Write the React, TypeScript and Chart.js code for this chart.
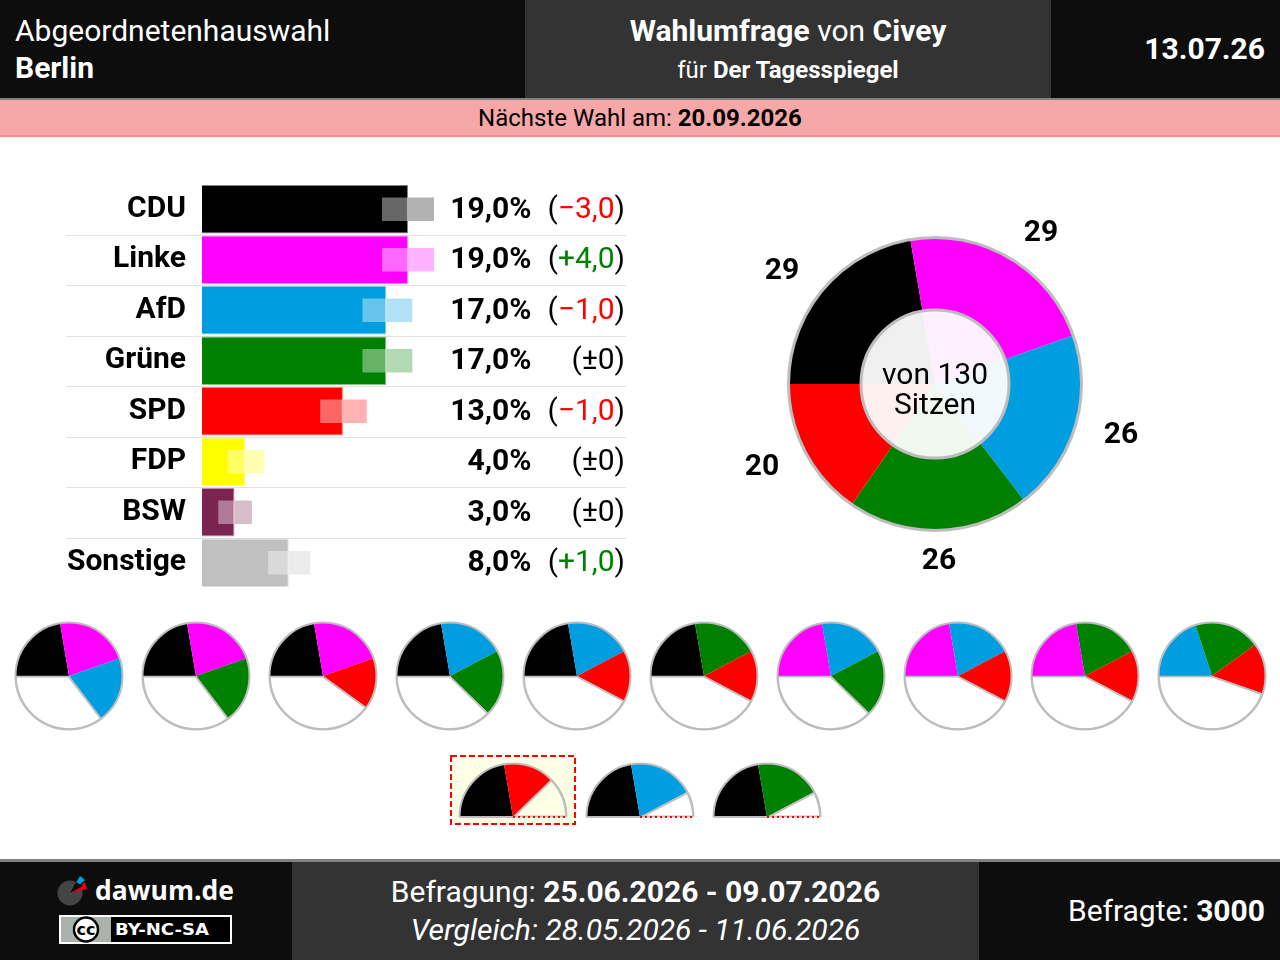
import { Chart, registerables } from 'chart.js';
import { useEffect, useRef } from 'react';

Chart.register(...registerables);

const parties = ['CDU', 'Linke', 'AfD', 'Grüne', 'SPD', 'FDP', 'BSW', 'Sonstige'];
const shares = [19, 19, 17, 17, 13, 4, 3, 8];
const changes = [-3, 4, -1, 0, -1, 0, 0, 1];
const marginLow = [16.6, 16.6, 14.8, 14.8, 10.9, 2.4, 1.5, 6.1];
const marginHigh = [21.4, 21.4, 19.4, 19.4, 15.2, 5.7, 4.6, 10];
const partyColors = ['#000000', '#ff00ff', '#009ee0', '#008000', '#ff0000', '#ffff00', '#7b2450', '#c0c0c0'];

const seatParties = ['CDU', 'Linke', 'AfD', 'Grüne', 'SPD'];
const seats = [29, 29, 26, 26, 20];
const seatColors = ['#000000', '#ff00ff', '#009ee0', '#008000', '#ff0000'];
const seatLabelOffsets = [
  [-153, -116],
  [106, -154],
  [186, 48],
  [4, 174],
  [-173, 80],
];
const totalSeats = 130;

const fullCoalitions = [
  ['CDU', 'Linke', 'AfD'],
  ['CDU', 'Linke', 'Grüne'],
  ['CDU', 'Linke', 'SPD'],
  ['CDU', 'AfD', 'Grüne'],
  ['CDU', 'AfD', 'SPD'],
  ['CDU', 'Grüne', 'SPD'],
  ['Linke', 'AfD', 'Grüne'],
  ['Linke', 'AfD', 'SPD'],
  ['Linke', 'Grüne', 'SPD'],
  ['AfD', 'Grüne', 'SPD'],
];
const halfCoalitions = [
  ['CDU', 'SPD'],
  ['CDU', 'AfD'],
  ['CDU', 'Grüne'],
];

const RING = '#bdbdbd';
const FONT = 'Roboto';

function fade(hex: string, alpha: number) {
  const n = parseInt(hex.slice(1), 16);
  return `rgba(${n >> 16},${(n >> 8) & 255},${n & 255},${alpha})`;
}

function formatChange(v: number) {
  if (v === 0) return '±0';
  return (v > 0 ? '+' : '−') + Math.abs(v).toFixed(1).replace('.', ',');
}

function BarChart() {
  const canvasRef = useRef<HTMLCanvasElement>(null);

  useEffect(() => {
    if (!canvasRef.current) return;

    const rowText = {
      id: 'rowText',
      beforeDatasetsDraw(chart: any) {
        const { ctx } = chart;
        const y = chart.scales.y;
        ctx.save();
        ctx.strokeStyle = '#e2e2e2';
        ctx.lineWidth = 1;
        for (let i = 0; i < parties.length - 1; i++) {
          const py = Math.round(y.getPixelForValue(i + 0.5)) + 0.5;
          ctx.beginPath();
          ctx.moveTo(66, py);
          ctx.lineTo(626, py);
          ctx.stroke();
        }
        ctx.restore();
      },
      afterDatasetsDraw(chart: any) {
        const { ctx } = chart;
        const y = chart.scales.y;
        ctx.save();
        ctx.textBaseline = 'middle';
        parties.forEach((_, i) => {
          const py = y.getPixelForValue(i) + 1;
          ctx.font = `700 30px ${FONT}`;
          ctx.fillStyle = '#000';
          ctx.textAlign = 'right';
          ctx.fillText(shares[i].toFixed(1).replace('.', ',') + '%', 531.5, py);

          ctx.font = `400 30px ${FONT}`;
          const inner = formatChange(changes[i]);
          const close = ctx.measureText(')').width;
          const innerW = ctx.measureText(inner).width;
          ctx.fillText(')', 625, py);
          ctx.fillStyle = changes[i] < 0 ? '#ff0000' : changes[i] > 0 ? '#008000' : '#000';
          ctx.fillText(inner, 625 - close, py);
          ctx.fillStyle = '#000';
          ctx.fillText('(', 625 - close - innerW, py);
        });
        ctx.restore();
      },
    };

    const chart = new Chart(canvasRef.current, {
      type: 'bar',
      data: {
        labels: parties,
        datasets: [
          {
            data: shares,
            backgroundColor: partyColors,
            borderColor: partyColors.map((c) => fade(c, 0.5)),
            borderWidth: 1,
            barPercentage: 0.96,
            categoryPercentage: 1,
            order: 3,
          },
          {
            data: marginLow.map((low, i) => [low, shares[i]]),
            backgroundColor: 'rgba(255,255,255,0.4)',
            barPercentage: 0.47,
            categoryPercentage: 1,
            order: 2,
          },
          {
            data: marginHigh.map((high, i) => [shares[i], high]),
            backgroundColor: partyColors.map((c) => fade(c, 0.3)),
            barPercentage: 0.47,
            categoryPercentage: 1,
            order: 1,
          },
        ],
      } as any,
      options: {
        indexAxis: 'y',
        responsive: false,
        animation: false,
        layout: { padding: { top: 25.4, bottom: 13, right: 15.2, left: 0 } },
        scales: {
          x: { display: false, min: 0, max: 39, stacked: false },
          y: {
            afterFit(scale: any) {
              scale.width = 202;
            },
            border: { display: false },
            grid: { display: false, drawTicks: false },
            ticks: {
              padding: 16,
              color: '#000',
              font: { family: FONT, size: 30, weight: 700 },
            },
          },
        },
        datasets: { bar: { grouped: false } },
        plugins: { legend: { display: false }, tooltip: { enabled: false } },
      } as any,
      plugins: [rowText],
    });

    return () => chart.destroy();
  }, []);

  return <canvas ref={canvasRef} width={640} height={472} style={{ position: 'absolute', left: 0, top: 150 }} />;
}

function SeatChart() {
  const canvasRef = useRef<HTMLCanvasElement>(null);

  useEffect(() => {
    if (!canvasRef.current) return;

    const overlay = {
      id: 'overlay',
      afterDatasetsDraw(chart: any) {
        const { ctx } = chart;
        const arc = chart.getDatasetMeta(0).data[0];
        const cx = arc.x;
        const cy = arc.y;
        ctx.save();
        ctx.strokeStyle = RING;
        ctx.lineWidth = 3;
        ctx.beginPath();
        ctx.arc(cx, cy, 146.5, 0, Math.PI * 2);
        ctx.stroke();
        ctx.beginPath();
        ctx.arc(cx, cy, 74, 0, Math.PI * 2);
        ctx.fillStyle = 'rgba(255,255,255,0.94)';
        ctx.fill();
        ctx.stroke();

        ctx.fillStyle = '#000';
        ctx.textAlign = 'center';
        ctx.textBaseline = 'middle';
        ctx.font = `400 30px ${FONT}`;
        ctx.fillText('von 130', cx, cy - 8);
        ctx.fillText('Sitzen', cx, cy + 22);
        ctx.font = `700 30px ${FONT}`;
        seats.forEach((v, i) => {
          ctx.fillText(String(v), cx + seatLabelOffsets[i][0], cy + seatLabelOffsets[i][1] + 3);
        });
        ctx.restore();
      },
    };

    const chart = new Chart(canvasRef.current, {
      type: 'pie',
      data: {
        labels: seatParties,
        datasets: [{ data: seats, backgroundColor: seatColors, borderWidth: 0 }],
      },
      options: {
        responsive: false,
        animation: false,
        rotation: -90,
        radius: 147,
        plugins: { legend: { display: false }, tooltip: { enabled: false } },
      } as any,
      plugins: [overlay],
    });

    return () => chart.destroy();
  }, []);

  return <canvas ref={canvasRef} width={460} height={420} style={{ position: 'absolute', left: 705, top: 174 }} />;
}

function CoalitionPie({ members, half, left, top, restColor }: { members: string[]; half?: boolean; left: number; top: number; restColor: string }) {
  const canvasRef = useRef<HTMLCanvasElement>(null);

  useEffect(() => {
    if (!canvasRef.current) return;

    const values = members.map((m) => seats[seatParties.indexOf(m)]);
    const colors = members.map((m) => seatColors[seatParties.indexOf(m)]);
    const used = values.reduce((a, b) => a + b, 0);
    const rest = (half ? totalSeats / 2 : totalSeats) - used;

    const ring = {
      id: 'ring',
      afterDatasetsDraw(c: any) {
        const { ctx } = c;
        const arc = c.getDatasetMeta(0).data[0];
        const r = arc.outerRadius - 0.5;
        ctx.save();
        ctx.strokeStyle = RING;
        ctx.lineWidth = 2;
        ctx.beginPath();
        if (half) {
          ctx.arc(arc.x, arc.y, r, Math.PI, 0);
          ctx.stroke();
          ctx.beginPath();
          ctx.moveTo(arc.x - r, arc.y);
          ctx.lineTo(arc.x, arc.y);
          ctx.stroke();
          ctx.strokeStyle = '#ff0000';
          ctx.setLineDash([2, 3]);
          ctx.beginPath();
          ctx.moveTo(arc.x, arc.y);
          ctx.lineTo(arc.x + r, arc.y);
          ctx.stroke();
        } else {
          ctx.arc(arc.x, arc.y, r, 0, Math.PI * 2);
          ctx.stroke();
        }
        ctx.restore();
      },
    };

    const chart = new Chart(canvasRef.current, {
      type: 'pie',
      data: {
        labels: [...members, 'Rest'],
        datasets: [
          {
            data: [...values, rest],
            backgroundColor: [...colors, restColor],
            borderColor: RING,
            borderWidth: [...values.map(() => 0), 1.5],
            borderAlign: 'inner',
          },
        ],
      } as any,
      options: {
        responsive: false,
        animation: false,
        rotation: -90,
        circumference: half ? 180 : 360,
        radius: 54,
        plugins: { legend: { display: false }, tooltip: { enabled: false } },
      } as any,
      plugins: [ring],
    });

    return () => chart.destroy();
  }, []);

  return <canvas ref={canvasRef} width={116} height={half ? 60 : 116} style={{ position: 'absolute', left, top }} />;
}

const abs = (left: number, top: number, width: number, height: number, background?: string): any => ({
  position: 'absolute',
  left,
  top,
  width,
  height,
  background,
});

function Text({ x, y, w, align, size, children, color, italic }: any) {
  return (
    <div
      style={{
        position: 'absolute',
        left: x,
        top: y,
        width: w,
        textAlign: align,
        fontSize: size,
        lineHeight: '36px',
        height: 36,
        color,
        fontStyle: italic ? 'italic' : 'normal',
        whiteSpace: 'nowrap',
      }}
    >
      {children}
    </div>
  );
}

export default function App() {
  const dark = '#0d0d0d';
  const mid = '#333333';
  return (
    <div style={{ ...abs(0, 0, 1280, 960, '#fff'), position: 'fixed', overflow: 'hidden', fontFamily: FONT }}>
      <div style={abs(0, 0, 1280, 98, dark)} />
      <div style={abs(525, 0, 526, 98, mid)} />
      <div style={abs(0, 98, 1280, 2, '#808080')} />
      <div style={{ ...abs(0, 100, 1280, 35, '#f6a8a8'), borderBottom: '2px solid #f98d8d' }} />

      <Text x={15} y={13} w={500} align="left" size={30} color="#fff">Abgeordnetenhauswahl</Text>
      <Text x={15} y={50} w={500} align="left" size={30} color="#fff"><b>Berlin</b></Text>
      <Text x={525} y={13} w={526} align="center" size={30} color="#fff"><b>Wahlumfrage</b> von <b>Civey</b></Text>
      <Text x={525} y={52} w={526} align="center" size={24} color="#fff">für <b>Der Tagesspiegel</b></Text>
      <Text x={1051} y={31} w={214} align="right" size={30} color="#fff"><b>13.07.26</b></Text>
      <Text x={0} y={100} w={1280} align="center" size={24} color="#000">Nächste Wahl am: <b>20.09.2026</b></Text>

      <BarChart />
      <SeatChart />

      {fullCoalitions.map((members, i) => (
        <CoalitionPie key={i} members={members} left={10.5 + i * 127} top={618} restColor="#ffffff" />
      ))}

      <svg style={abs(445, 750, 136, 80)} width={136} height={80}>
        <rect x={6} y={6} width={124} height={68} fill="#ffffe6" stroke="#ff0000" strokeWidth={2} strokeDasharray="6 3" />
      </svg>
      {halfCoalitions.map((members, i) => (
        <CoalitionPie key={i} members={members} half left={455 + i * 127} top={760} restColor={i === 0 ? '#ffffe6' : '#ffffff'} />
      ))}

      <div style={abs(0, 859, 1280, 3, '#808080')} />
      <div style={abs(0, 862, 1280, 98, dark)} />
      <div style={abs(292, 862, 687, 98, mid)} />

      <svg style={abs(50, 868, 190, 84)} width={190} height={84}>
        <circle cx={20} cy={25} r={12.5} fill="#444444" />
        <path d="M20 25 L30 8 L35 12 Z" fill="#009ee0" />
        <path d="M20 25 L35 14 L37 21 Z" fill="#e3000f" />
        <path d="M20 25 L26 14 L33 18 Z" fill="#0d0d0d" />
        <text x={45} y={32} fill="#fff" fontFamily="Open Sans" fontWeight={700} fontSize={26.5}>dawum.de</text>
        <rect x={10} y={48} width={171} height={27} fill="#000" stroke="#fff" strokeWidth={2} />
        <rect x={11} y={49} width={50} height={25} fill="#aab2ab" />
        <circle cx={36} cy={61.5} r={12} fill="#fff" stroke="#000" strokeWidth={2.5} />
        <text x={36} y={67} textAnchor="middle" fill="#000" fontFamily="DejaVu Sans" fontWeight={700} fontSize={16}>cc</text>
        <text x={65} y={67} fill="#fff" fontFamily="DejaVu Sans" fontWeight={700} fontSize={15.5} textLength={94} lengthAdjust="spacingAndGlyphs">BY-NC-SA</text>
      </svg>

      <Text x={292} y={874} w={687} align="center" size={30} color="#fff">Befragung: <b>25.06.2026 - 09.07.2026</b></Text>
      <Text x={292} y={912} w={687} align="center" size={30} color="#fff" italic>Vergleich: 28.05.2026 - 11.06.2026</Text>
      <Text x={979} y={893} w={286} align="right" size={30} color="#fff">Befragte: <b>3000</b></Text>
    </div>
  );
}
